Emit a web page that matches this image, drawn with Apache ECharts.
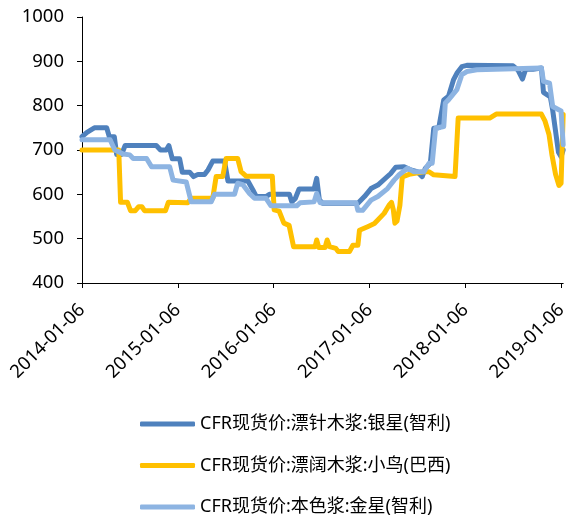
<!DOCTYPE html>
<html>
<head>
<meta charset="utf-8">
<script src="https://cdn.jsdelivr.net/npm/echarts@6/dist/echarts.min.js"></script>
<style>
  html, body { margin: 0; padding: 0; background: #fff; }
  #chart { width: 570px; height: 517px; }
</style>
</head>
<body>
<div id="chart"></div>
<script>
const seriesNames = [
  'CFR现货价:漂针木浆:银星(智利)',
  'CFR现货价:漂阔木浆:小鸟(巴西)',
  'CFR现货价:本色浆:金星(智利)'
]
const tickDates = ['2014-01-06', '2015-01-06', '2016-01-06', '2017-01-06', '2018-01-06', '2019-01-06']
const xRange = ['2014-01-06', '2019-01-13']
const yTicks = [400, 500, 600, 700, 800, 900, 1000]

// 漂针木浆 银星
const silverStar = [
  ['2014-01-06', 730], ['2014-01-25', 740], ['2014-02-22', 750], ['2014-04-10', 750], ['2014-04-20', 730],
  ['2014-05-09', 730], ['2014-05-18', 690], ['2014-06-06', 690], ['2014-06-19', 710], ['2014-10-16', 710],
  ['2014-11-01', 700], ['2014-11-23', 700], ['2014-12-03', 710], ['2014-12-16', 680], ['2015-01-13', 680],
  ['2015-01-23', 650], ['2015-02-20', 650], ['2015-03-07', 640], ['2015-03-24', 645], ['2015-04-18', 645],
  ['2015-05-01', 655], ['2015-05-19', 675], ['2015-07-03', 675], ['2015-07-16', 630], ['2015-09-30', 630],
  ['2015-10-19', 610], ['2015-11-01', 595], ['2015-12-08', 595], ['2015-12-21', 600], ['2016-03-06', 600],
  ['2016-03-15', 583], ['2016-03-28', 590], ['2016-04-12', 612], ['2016-06-08', 612], ['2016-06-18', 636],
  ['2016-06-28', 588], ['2016-07-10', 580], ['2016-11-22', 580], ['2016-12-17', 595], ['2017-01-11', 613],
  ['2017-02-06', 621], ['2017-03-27', 647], ['2017-04-15', 661], ['2017-05-17', 662], ['2017-06-11', 655],
  ['2017-07-06', 651], ['2017-07-25', 640], ['2017-08-06', 659], ['2017-08-25', 670], ['2017-09-07', 749],
  ['2017-09-26', 750], ['2017-10-15', 813], ['2017-11-02', 821], ['2017-11-21', 858], ['2017-12-04', 873],
  ['2017-12-23', 888], ['2018-01-11', 891], ['2018-07-06', 890], ['2018-07-25', 880], ['2018-08-11', 860],
  ['2018-08-23', 882], ['2018-09-20', 882], ['2018-10-22', 885], ['2018-10-30', 830], ['2018-11-25', 820],
  ['2018-12-04', 790], ['2018-12-26', 695], ['2019-01-05', 685], ['2019-01-13', 700]
]

// 漂阔木浆 小鸟
const birdBrazil = [
  ['2014-01-06', 700], ['2014-05-26', 700], ['2014-06-02', 582], ['2014-06-28', 582], ['2014-07-10', 563],
  ['2014-07-28', 563], ['2014-08-10', 572], ['2014-08-22', 572], ['2014-09-01', 563], ['2014-11-20', 563],
  ['2014-12-01', 582], ['2015-02-13', 581], ['2015-02-26', 591], ['2015-05-19', 591], ['2015-06-01', 640],
  ['2015-06-26', 640], ['2015-07-09', 681], ['2015-08-22', 681], ['2015-09-04', 651], ['2015-09-23', 641],
  ['2016-01-01', 641], ['2016-01-08', 565], ['2016-01-27', 562], ['2016-02-14', 535], ['2016-03-05', 530],
  ['2016-03-22', 482], ['2016-06-12', 482], ['2016-06-18', 497], ['2016-06-26', 480], ['2016-07-20', 480],
  ['2016-07-28', 497], ['2016-08-06', 482], ['2016-08-30', 478], ['2016-09-08', 471], ['2016-10-21', 471],
  ['2016-11-03', 485], ['2016-11-22', 485], ['2016-11-28', 519], ['2016-12-29', 527], ['2017-01-24', 534],
  ['2017-03-02', 557], ['2017-03-20', 575], ['2017-03-30', 582], ['2017-04-06', 565], ['2017-04-12', 535],
  ['2017-04-20', 540], ['2017-05-01', 575], ['2017-05-10', 639], ['2017-06-05', 645], ['2017-08-01', 651],
  ['2017-08-20', 651], ['2017-09-07', 644], ['2017-11-27', 640], ['2017-12-09', 772], ['2018-04-08', 772],
  ['2018-05-03', 781], ['2018-10-22', 781], ['2018-11-05', 765], ['2018-11-20', 735], ['2018-12-01', 690],
  ['2018-12-15', 645], ['2018-12-28', 620], ['2019-01-05', 625], ['2019-01-13', 780]
]

// 本色浆 金星
const goldStar = [
  ['2014-01-06', 723], ['2014-04-23', 723], ['2014-05-11', 700], ['2014-06-12', 691], ['2014-07-07', 689],
  ['2014-07-20', 681], ['2014-09-09', 681], ['2014-09-28', 662], ['2014-12-06', 662], ['2014-12-19', 632],
  ['2015-02-07', 628], ['2015-02-26', 583], ['2015-05-13', 583], ['2015-05-26', 600], ['2015-08-10', 600],
  ['2015-08-22', 625], ['2015-09-10', 622], ['2015-10-06', 602], ['2015-10-25', 591], ['2015-12-08', 591],
  ['2015-12-27', 574], ['2016-04-03', 574], ['2016-04-16', 581], ['2016-06-08', 583], ['2016-06-18', 602],
  ['2016-07-01', 581], ['2016-11-15', 581], ['2016-11-22', 564], ['2016-12-10', 564], ['2017-01-11', 587],
  ['2017-02-06', 595], ['2017-03-15', 613], ['2017-04-09', 632], ['2017-04-28', 644], ['2017-05-30', 659],
  ['2017-06-24', 651], ['2017-08-01', 651], ['2017-08-20', 670], ['2017-09-01', 670], ['2017-09-14', 749],
  ['2017-10-15', 753], ['2017-10-21', 806], ['2017-11-02', 813], ['2017-12-04', 836], ['2017-12-23', 870],
  ['2018-01-11', 877], ['2018-02-18', 881], ['2018-10-22', 885], ['2018-10-30', 855], ['2018-11-22', 851],
  ['2018-12-04', 798], ['2019-01-05', 788], ['2019-01-13', 712]
]

const colors = ['#4F81BD', '#FFC000', '#8DB4E2']
const font = '"Noto Sans", "Noto Sans CJK SC", sans-serif'

// dates are parsed as UTC and put on a plain value axis (ms)
const toMs = s => Date.parse(s + 'T00:00:00Z')
const pad = n => (n < 10 ? '0' : '') + n
const fmtDate = v => {
  const d = new Date(Math.round(v))
  return d.getUTCFullYear() + '-' + pad(d.getUTCMonth() + 1) + '-' + pad(d.getUTCDate())
}
const tickMs = tickDates.map(toMs)

const chart = echarts.init(document.getElementById('chart'))

const option = {
  animation: false,
  color: colors,
  grid: { left: 82, right: 3, top: 17, bottom: 234 },
  legend: {
    orient: 'vertical',
    left: 140,
    top: 415,
    padding: 0,
    itemWidth: 55,
    itemHeight: 5,
    itemGap: 23.5,
    icon: 'roundRect',
    textStyle: { fontSize: 18, color: '#000', fontFamily: font },
    data: seriesNames
  },
  xAxis: {
    type: 'value',
    min: toMs(xRange[0]),
    max: toMs(xRange[1]),
    axisLine: { show: true, onZero: false, lineStyle: { color: '#000', width: 1 } },
    axisTick: { show: true, length: 5, lineStyle: { color: '#000' }, customValues: tickMs },
    axisLabel: {
      customValues: tickMs,
      rotate: 45,
      fontSize: 18.5,
      color: '#000',
      fontFamily: font,
      margin: 24,
      formatter: v => fmtDate(v)
    },
    splitLine: { show: false }
  },
  yAxis: {
    type: 'value',
    min: yTicks[0],
    max: yTicks[yTicks.length - 1],
    interval: 100,
    axisLine: { show: true, lineStyle: { color: '#000', width: 1 } },
    axisTick: { show: true, length: 5, lineStyle: { color: '#000' } },
    axisLabel: { fontSize: 18.5, color: '#000', fontFamily: font, margin: 18, formatter: v => String(v) },
    splitLine: { show: false }
  },
  series: [silverStar, birdBrazil, goldStar].map((d, i) => ({
    name: seriesNames[i],
    type: 'line',
    data: d.map(p => [toMs(p[0]), p[1]]),
    symbol: 'none',
    lineStyle: { width: 5, color: colors[i], cap: 'round', join: 'round' }
  }))
}

chart.setOption(option)
</script>
</body>
</html>
